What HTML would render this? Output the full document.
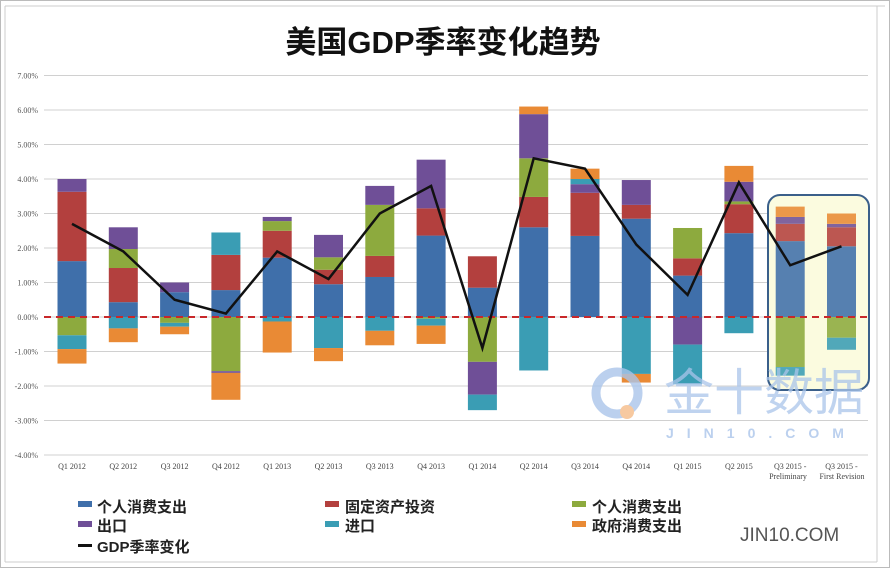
<!DOCTYPE html>
<html><head><meta charset="utf-8"><style>
html,body{margin:0;padding:0;background:#fff;}
svg{display:block;font-family:"Liberation Sans","Noto Sans CJK SC",sans-serif;}
</style></head><body>
<svg id="c" width="890" height="568" xmlns="http://www.w3.org/2000/svg">
<rect x="0.5" y="0.5" width="889" height="567" fill="#fff" stroke="#bbb"/>
<line x1="5" y1="6" x2="885" y2="6" stroke="#ccc"/>
<line x1="5" y1="6" x2="5" y2="562" stroke="#ccc"/>
<line x1="877" y1="6" x2="877" y2="562" stroke="#ccc"/>
<line x1="5" y1="562" x2="877" y2="562" stroke="#ccc"/>
<text x="443" y="53" text-anchor="middle" font-size="31" font-weight="bold" fill="#111" font-family="'Liberation Sans','Noto Sans CJK SC',sans-serif">美国GDP季率变化趋势</text>
<g id="grid"></g>
<rect x="768" y="195" width="101" height="195" rx="12" fill="#fbfbe0"/>
<g id="bars"></g>
<rect x="768" y="195" width="101" height="195" rx="12" fill="#fbfbe0" fill-opacity="0.12" stroke="#3a5f8a" stroke-width="2"/>
<line x1="44" y1="317" x2="868" y2="317" stroke="#c8282a" stroke-width="2" stroke-dasharray="7,5"/>
<polyline id="gdp" fill="none" stroke="#111" stroke-width="2.5"/>
<g id="xl" font-family="'Liberation Serif',serif" font-size="8" fill="#444" text-anchor="middle"></g>
<text x="664" y="410" font-size="50" fill="#aac4ea" fill-opacity="0.75" font-family="'Liberation Sans','Noto Sans CJK SC',sans-serif">金十数据</text>
<text x="666" y="438" font-size="14" fill="#aac4ea" fill-opacity="0.8" letter-spacing="13" font-weight="bold">JIN10.COM</text>
<circle cx="617" cy="393" r="21" fill="none" stroke="#aac4ea" stroke-opacity="0.8" stroke-width="9"/>
<circle cx="627" cy="412" r="7" fill="#f7c9a0"/>
<g font-size="15" font-weight="bold" fill="#222">
<rect x="78" y="501" width="14" height="6" fill="#3f6faa"/><text x="97" y="512">个人消费支出</text>
<rect x="78" y="521" width="14" height="6" fill="#6f4f97"/><text x="97" y="531">出口</text>
<rect x="78" y="544" width="14" height="3" fill="#111"/><text x="97" y="552">GDP季率变化</text>
<rect x="325" y="501" width="14" height="6" fill="#b3403e"/><text x="345" y="512">固定资产投资</text>
<rect x="325" y="521" width="14" height="6" fill="#3a9db4"/><text x="345" y="531">进口</text>
<rect x="572" y="501" width="14" height="6" fill="#8daa3e"/><text x="592" y="512">个人消费支出</text>
<rect x="572" y="521" width="14" height="6" fill="#e98a35"/><text x="592" y="531">政府消费支出</text>
</g>
<text x="740" y="541" font-size="19" fill="#555">JIN10.COM</text>
</svg>
<script>
var NS="http://www.w3.org/2000/svg";
function el(p,t,a,txt){var e=document.createElementNS(NS,t);for(var k in a)e.setAttribute(k,a[k]);if(txt)e.textContent=txt;p.appendChild(e);return e;}
function Y(v){return 317-34.5*v;}
var g=document.getElementById('grid');
for(var v=7;v>=-4;v--){el(g,'line',{x1:44,x2:868,y1:Y(v),y2:Y(v),stroke:'#d0d0d0','stroke-width':1});
el(g,'text',{x:38,y:Y(v)+3,'font-size':8,fill:'#555','text-anchor':'end','font-family':"'Liberation Serif',serif"},v.toFixed(2)+'%');}
var C={b:'#3f6faa',r:'#b3403e',g:'#8daa3e',p:'#6f4f97',t:'#3a9db4',o:'#e98a35'};
var D=[
[[['b',1.62],['r',3.63],['p',4.0]],[['g',-0.53],['t',-0.93],['o',-1.35]]],
[[['b',0.43],['r',1.42],['g',1.97],['p',2.6]],[['t',-0.33],['o',-0.73]]],
[[['b',0.72],['p',1.0]],[['g',-0.17],['t',-0.28],['o',-0.5]]],
[[['b',0.78],['r',1.8],['t',2.45]],[['g',-1.57],['p',-1.62],['o',-2.4]]],
[[['b',1.72],['r',2.5],['g',2.78],['p',2.9]],[['t',-0.13],['o',-1.03]]],
[[['b',0.95],['r',1.37],['g',1.73],['p',2.38]],[['t',-0.9],['o',-1.28]]],
[[['b',1.16],['r',1.77],['g',3.25],['p',3.8]],[['t',-0.4],['o',-0.82]]],
[[['b',2.36],['r',3.15],['p',4.56]],[['g',-0.05],['t',-0.25],['o',-0.78]]],
[[['b',0.85],['r',1.76]],[['g',-1.3],['p',-2.25],['t',-2.7]]],
[[['b',2.6],['r',3.48],['g',4.6],['p',5.88],['o',6.1]],[['t',-1.55]]],
[[['b',2.35],['r',3.6],['p',3.85],['t',4.0],['o',4.3]],[]],
[[['b',2.85],['r',3.25],['p',3.97]],[['t',-1.65],['o',-1.9]]],
[[['b',1.2],['r',1.7],['g',2.58]],[['p',-0.8],['t',-1.95]]],
[[['b',2.43],['r',3.27],['g',3.35],['p',3.92],['o',4.38]],[['t',-0.47]]],
[[['b',2.2],['r',2.7],['p',2.9],['o',3.2]],[['g',-1.45],['t',-1.7]]],
[[['b',2.05],['r',2.6],['p',2.7],['o',3.0]],[['g',-0.6],['t',-0.95]]]];
var L=['Q1 2012','Q2 2012','Q3 2012','Q4 2012','Q1 2013','Q2 2013','Q3 2013','Q4 2013','Q1 2014','Q2 2014','Q3 2014','Q4 2014','Q1 2015','Q2 2015','Q3 2015 -','Q3 2015 -'];
var G=[2.7,1.9,0.5,0.1,1.9,1.1,3.0,3.8,-0.9,4.6,4.3,2.1,0.64,3.9,1.5,2.05];
var b=document.getElementById('bars'),xl=document.getElementById('xl'),pts=[];
D.forEach(function(d,i){var cx=72+51.3*i,x=cx-14.5;
d.forEach(function(side){var prev=0;side.forEach(function(s){var y1=Y(prev),y2=Y(s[1]);
el(b,'rect',{x:x,y:Math.min(y1,y2),width:29,height:Math.abs(y2-y1),fill:C[s[0]]});prev=s[1];});});
el(xl,'text',{x:cx,y:469},L[i]);pts.push(cx+','+Y(G[i]));});
el(xl,'text',{x:788,y:479},'Preliminary');el(xl,'text',{x:842,y:479},'First Revision');
document.getElementById('gdp').setAttribute('points',pts.join(' '));
</script>
</body></html>
